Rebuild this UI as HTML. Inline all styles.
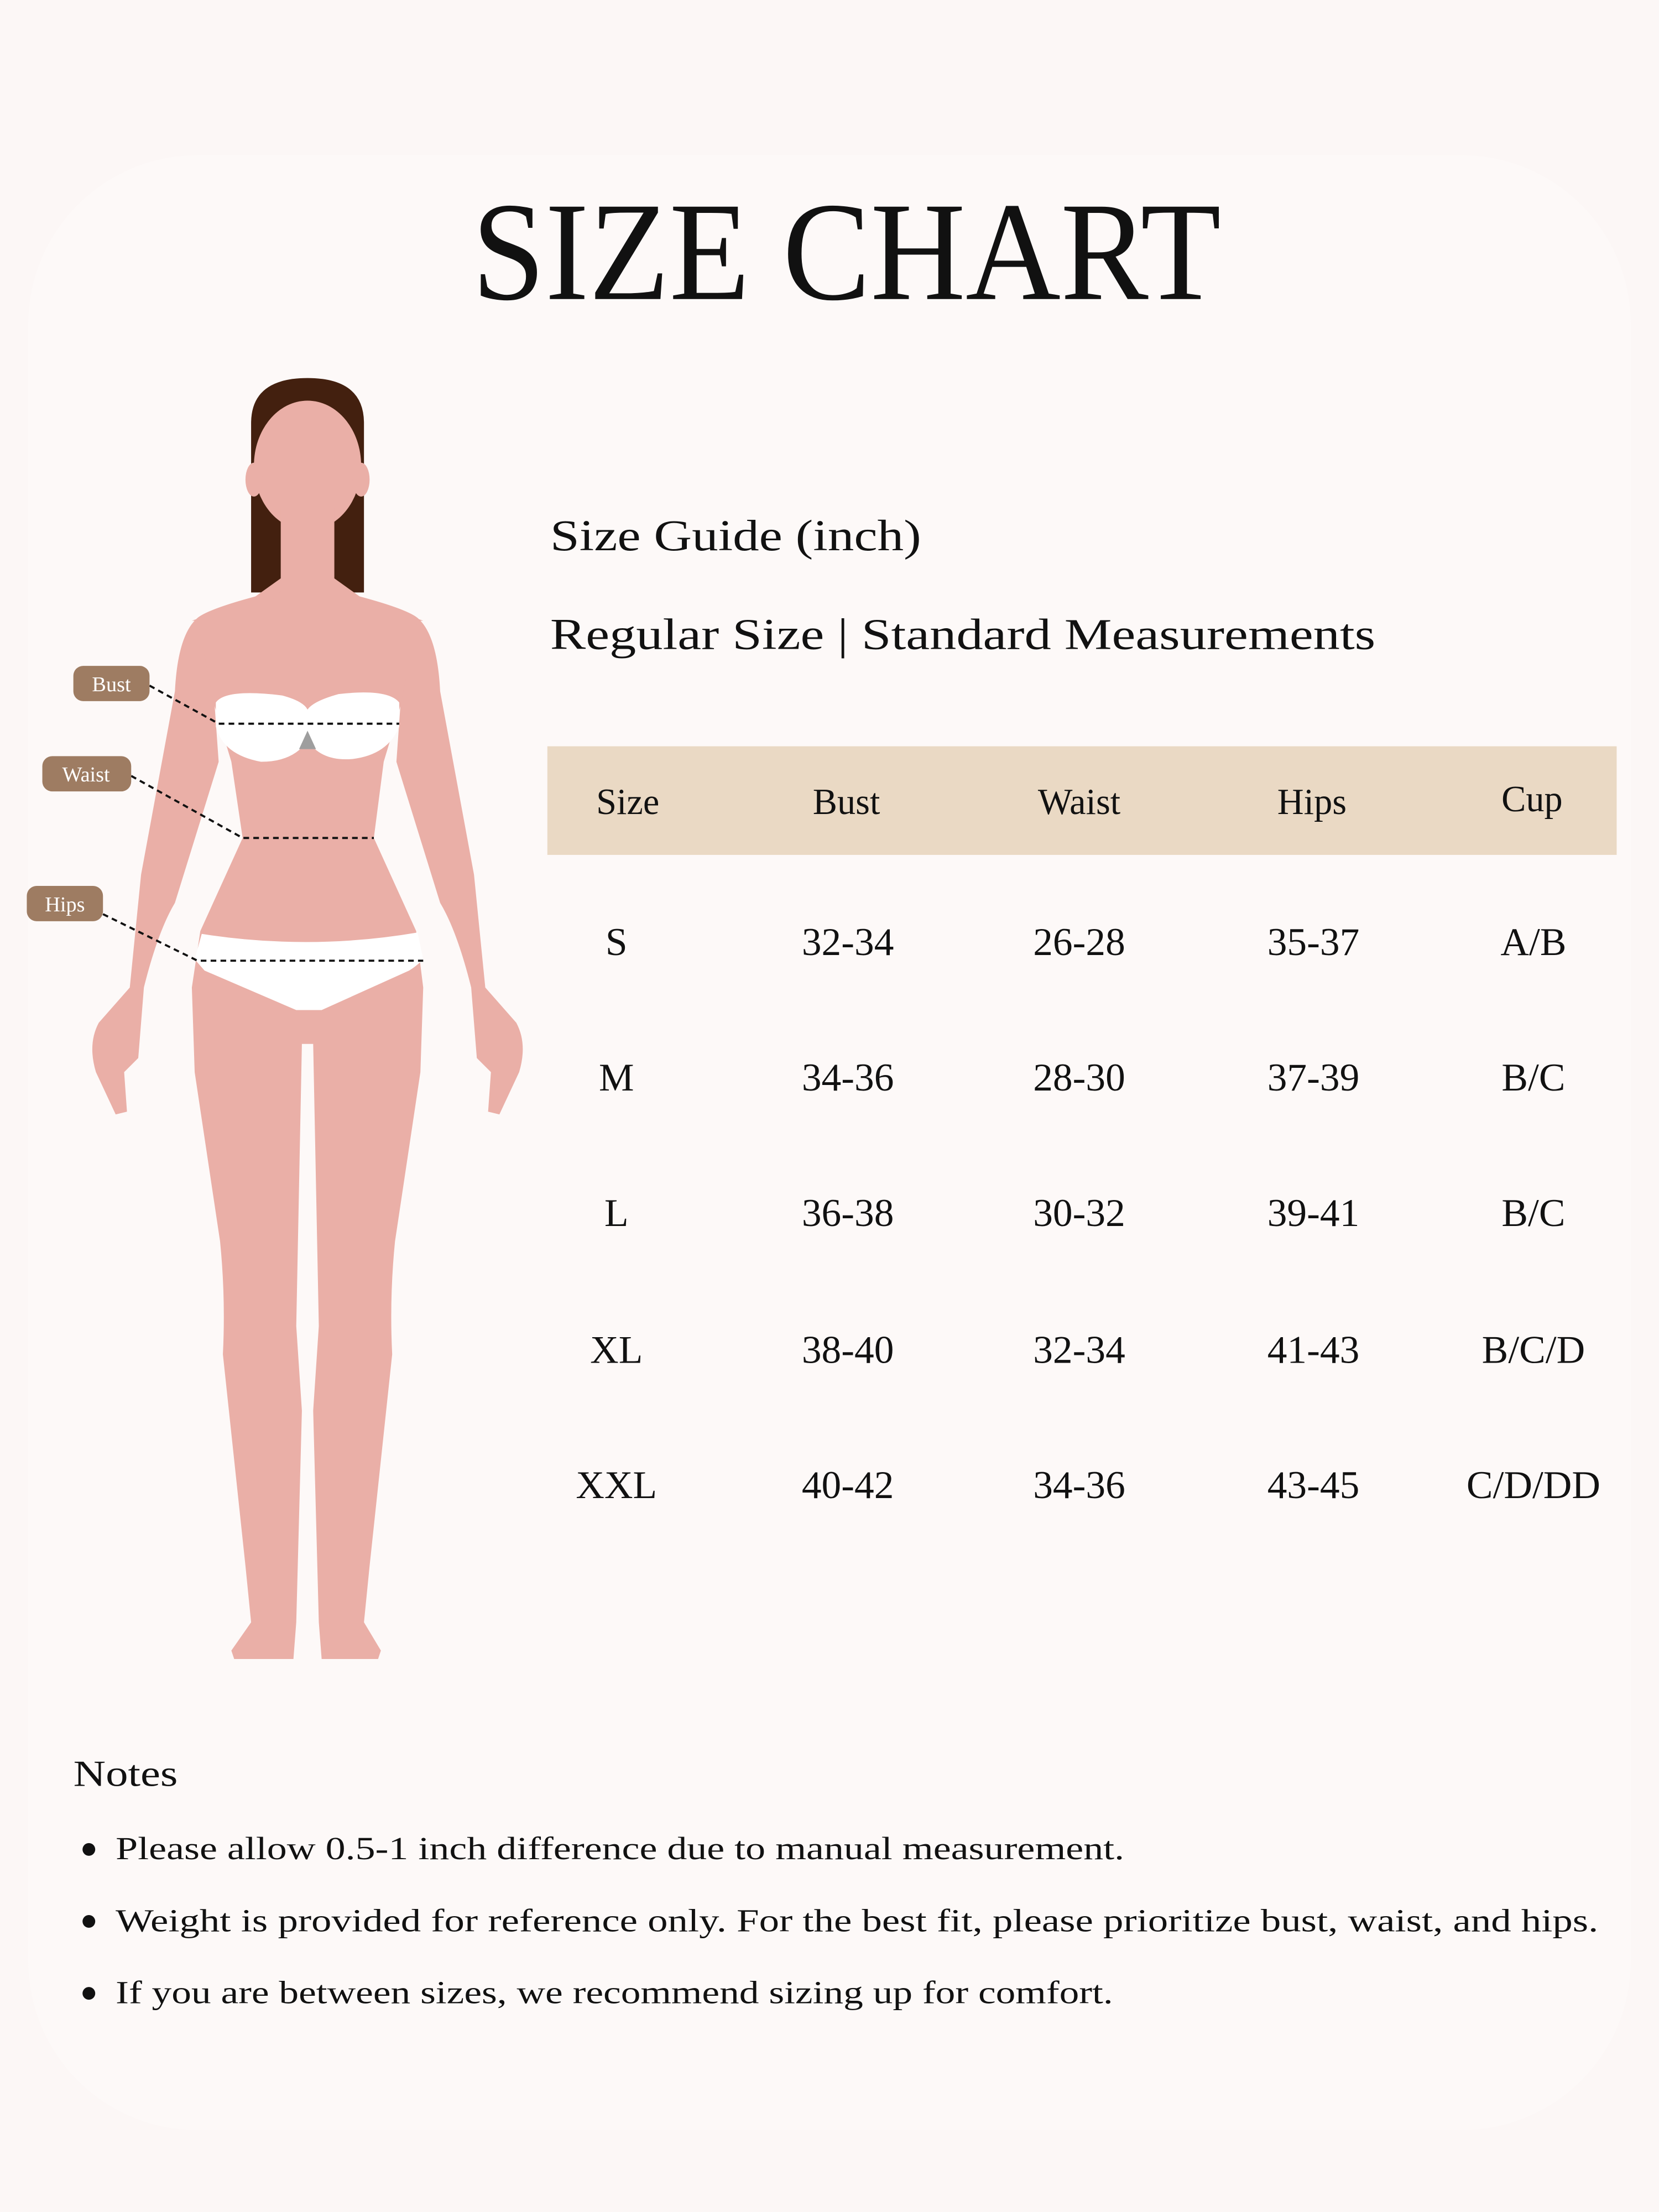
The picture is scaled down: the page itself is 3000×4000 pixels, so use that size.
<!DOCTYPE html>
<html><head><meta charset="utf-8"><style>
html,body{margin:0;padding:0;background:#fcf7f6;}
svg{display:block}
text{font-family:"Liberation Serif",serif;fill:#111}
</style></head><body>
<svg width="3000" height="4000" viewBox="0 0 1176 1568" xmlns="http://www.w3.org/2000/svg">
<rect width="1176" height="1568" fill="#fcf7f6"/>
<rect x="20" y="110" width="1136" height="1400" rx="120" fill="#fdf9f8"/>
<text x="600" y="212" font-size="100" text-anchor="middle" textLength="531" lengthAdjust="spacingAndGlyphs">SIZE CHART</text>

<!-- figure -->
<g fill="#eaafa7">
<path d="M178 300 Q178 268 218 268 Q258 268 258 300 L258 420 L178 420 Z" fill="#43200f"/>
<ellipse cx="218" cy="330" rx="38" ry="46"/>
<ellipse cx="180" cy="340" rx="6" ry="12"/>
<ellipse cx="256" cy="340" rx="6" ry="12"/>
<rect x="199" y="360" width="38" height="70"/>
<path d="M199 410 L237 410 L258 425 L300 440 L136 440 L178 425 Z"/>
<path d="M200 418 Q150 430 140 438 Q126 450 124 490 L100 620 Q96 660 92 700 L70 725 Q62 740 68 760 L82 790 L90 788 L88 760 L98 750 L102 700 Q112 660 124 640 L155 540 L150 470 Z"/>
<path d="M236 418 Q286 430 296 438 Q310 450 312 490 L336 620 Q340 660 344 700 L366 725 Q374 740 368 760 L354 790 L346 788 L348 760 L338 750 L334 700 Q324 660 312 640 L281 540 L286 470 Z"/>
<path d="M140 440 L296 440 L284 500 L272 540 L265 594 L295 660 L300 700 L298 760 L280 880 Q276 920 278 960 L262 1110 L258 1150 L270 1170 L268 1176 L228 1176 L226 1150 L222 1000 L226 940 L222 740 L214 740 L210 940 L214 1000 L210 1150 L208 1176 L166 1176 L164 1170 L178 1150 L174 1110 L158 960 Q160 920 156 880 L138 760 L136 700 L142 660 L172 594 L164 540 L152 500 Z"/>
</g>
<path d="M153 498 Q160 488 200 493 Q215 497 218 503 Q222 497 240 492 Q275 488 283 498 L283 515 Q275 535 250 538 Q228 540 218 525 Q208 540 185 540 Q158 535 153 515 Z" fill="#fff"/>
<path d="M212 531 L218 518 L224 531 Z" fill="#9e9e9e"/>
<path d="M143 662 Q220 674 296 661 L300 680 Q295 685 290 688 L228 716 L210 716 L145 688 L138 680 Z" fill="#fff"/>
<g stroke="#111" stroke-width="1.5" stroke-dasharray="4 3" fill="none">
<path d="M106 486 L155 513 L283 513"/>
<path d="M93 550 L172 594 L265 594"/>
<path d="M73 648 L140 681 L300 681"/>
</g>
<g fill="#9e7c62">
<rect x="52" y="472" width="54" height="25" rx="7"/>
<rect x="30" y="536" width="63" height="25" rx="7"/>
<rect x="19" y="628" width="54" height="25" rx="7"/>
</g>
<g font-size="15">
<text x="79" y="490" text-anchor="middle" style="fill:#fff">Bust</text>
<text x="61" y="554" text-anchor="middle" style="fill:#fff">Waist</text>
<text x="46" y="646" text-anchor="middle" style="fill:#fff">Hips</text>
</g>

<text x="390" y="390" font-size="31" textLength="263" lengthAdjust="spacingAndGlyphs">Size Guide (inch)</text>
<text x="390" y="460" font-size="31" textLength="585" lengthAdjust="spacingAndGlyphs">Regular Size | Standard Measurements</text>

<rect x="388" y="529" width="758" height="77" fill="#ead9c4"/>
<g font-size="26" text-anchor="middle">
<text x="445" y="577">Size</text><text x="600" y="577">Bust</text><text x="765" y="577">Waist</text><text x="930" y="577">Hips</text><text x="1086" y="575">Cup</text>
</g>
<g font-size="28" text-anchor="middle">
<text x="437" y="677">S</text><text x="601" y="677">32-34</text><text x="765" y="677">26-28</text><text x="931" y="677">35-37</text><text x="1087" y="677">A/B</text>
<text x="437" y="773">M</text><text x="601" y="773">34-36</text><text x="765" y="773">28-30</text><text x="931" y="773">37-39</text><text x="1087" y="773">B/C</text>
<text x="437" y="869">L</text><text x="601" y="869">36-38</text><text x="765" y="869">30-32</text><text x="931" y="869">39-41</text><text x="1087" y="869">B/C</text>
<text x="437" y="966">XL</text><text x="601" y="966">38-40</text><text x="765" y="966">32-34</text><text x="931" y="966">41-43</text><text x="1087" y="966">B/C/D</text>
<text x="437" y="1062">XXL</text><text x="601" y="1062">40-42</text><text x="765" y="1062">34-36</text><text x="931" y="1062">43-45</text><text x="1087" y="1062">C/D/DD</text>
</g>

<text x="52" y="1266" font-size="26" textLength="74" lengthAdjust="spacingAndGlyphs">Notes</text>
<g fill="#111"><circle cx="63" cy="1311" r="4.5"/><circle cx="63" cy="1362" r="4.5"/><circle cx="63" cy="1413" r="4.5"/></g>
<g font-size="23">
<text x="82" y="1318" textLength="715" lengthAdjust="spacingAndGlyphs">Please allow 0.5-1 inch difference due to manual measurement.</text>
<text x="82" y="1369" textLength="1051" lengthAdjust="spacingAndGlyphs">Weight is provided for reference only. For the best fit, please prioritize bust, waist, and hips.</text>
<text x="82" y="1420" textLength="707" lengthAdjust="spacingAndGlyphs">If you are between sizes, we recommend sizing up for comfort.</text>
</g>
</svg>
</body></html>
